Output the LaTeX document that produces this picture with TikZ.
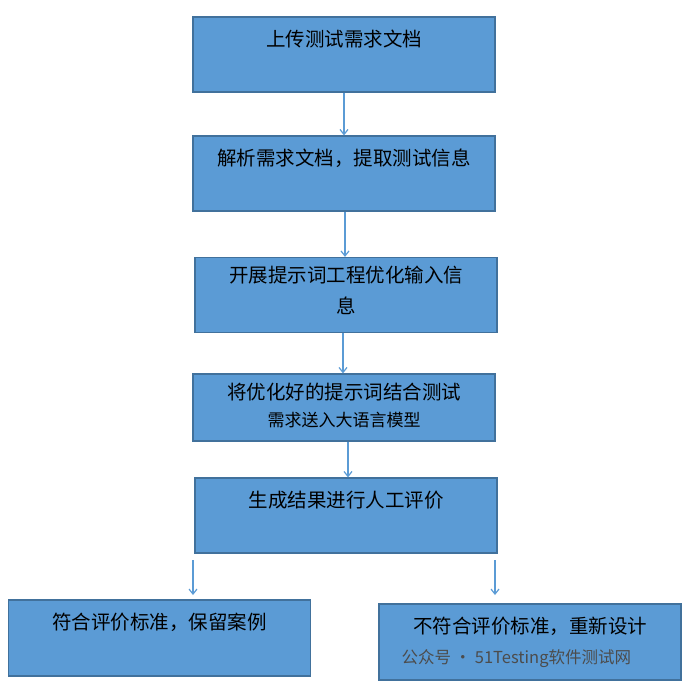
\documentclass[tikz,border=0pt]{standalone}
\usepackage{fontspec}
\newfontfamily\cjk{Noto Sans CJK SC}
\usetikzlibrary{positioning}
\usetikzlibrary{arrows.meta}
\definecolor{boxfill}{HTML}{5B9BD5}
\definecolor{boxline}{HTML}{41719C}
\definecolor{arrowline}{HTML}{5B9BD5}
\tikzset{
	step/.style={draw=boxline, line width=1.2pt, fill=boxfill, minimum width=302pt, minimum height=#1, inner sep=0pt},
	step/.default=75pt,
	label text/.style={font=\cjk\fontsize{19.5}{25}\selectfont, align=center},
	flow/.style={draw=arrowline, line width=1.2pt, -{Straight Barb[length=5pt,width=8pt]}}
}
\begin{document}
\begin{tikzpicture}[x=1pt,y=-1pt]
	\useasboundingbox (0,0) rectangle (695,686);
	% flow boxes
	\node[step] (upload) at (344,54.5) {};
	\node[step] (parse) at (344,173.5) {};
	\node[step] (prompt) at (346,295) {};
	\node[step=67pt] (feed) at (344,407.5) {};
	\node[step] (review) at (346,515.5) {};
	\node[step=76pt] (keep) at (159.5,638) {};
	\node[step=76pt] (redo) at (530,642) {};
	% texts
	\node[label text, below=10pt of upload.north] {上传测试需求文档};
	\node[label text, below=10pt of parse.north] {解析需求文档，提取测试信息};
	\node[label text, below=6pt of prompt.north, font=\cjk\fontsize{19.5}{31}\selectfont] {开展提示词工程优化输入信\\息};
	\node[label text, below=6pt of feed.north, font=\cjk\fontsize{19.5}{27}\selectfont] {将优化好的提示词结合测试\\{\fontsize{17}{20}\selectfont 需求送入大语言模型}};
	\node[label text, below=10pt of review.north] {生成结果进行人工评价};
	\node[label text, below=10pt of keep.north] {符合评价标准，保留案例};
	\node[label text, below=10pt of redo.north] {不符合评价标准，重新设计};
	% connectors
	\draw[flow] (upload) -- (parse);
	\draw[flow] (parse.south -| 345,0) -- (prompt.north -| 345,0);
	\draw[flow] (prompt.south -| 343,0) -- (feed.north -| 343,0);
	\draw[flow] (feed.south -| 348,0) -- (review.north -| 348,0);
	\coordinate (leftTop) at (193,560);
	\coordinate (leftEnd) at (193,595);
	\coordinate (rightTop) at (495,560);
	\coordinate (rightEnd) at (495,595);
	\draw[flow] (leftTop) -- (leftEnd);
	\draw[flow] (rightTop) -- (rightEnd);
	% watermark
	\node[font=\cjk\fontsize{16.5}{18}\selectfont, text=black!70, anchor=west] (mark) at (398,659) {公众号 · 51Testing软件测试网};
\end{tikzpicture}
\end{document}
